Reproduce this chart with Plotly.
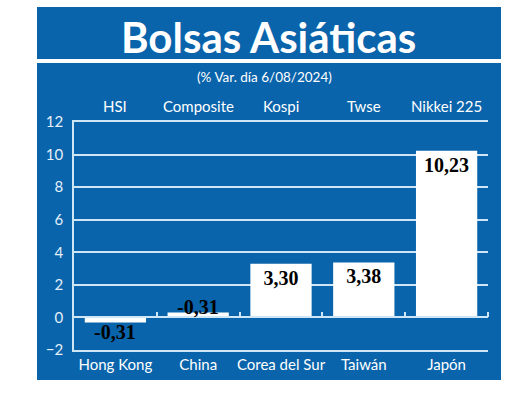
import plotly.graph_objects as go

# ---- data ----
countries = ["Hong Kong", "China", "Corea del Sur", "Taiwán", "Japón"]
indices = ["HSI", "Composite", "Kospi", "Twse", "Nikkei 225"]
values = [-0.31, 0.31, 3.30, 3.38, 10.23]
labels = ["-0,31", "-0,31", "3,30", "3,38", "10,23"]
y_ticks = [-2, 0, 2, 4, 6, 8, 10, 12]

title = "Bolsas Asiáticas"
subtitle = "(% Var. día 6/08/2024)"

# ---- layout constants ----
W, H = 520, 402
L, R, T, B = 74, 32, 122, 52
PW, PH = W - L - R, H - T - B
BLUE = "#0a64ab"
GRID = "#cfe6f7"
NARROW = "Liberation Sans Narrow, Arial Narrow, Lato, sans-serif"
SERIF = "Liberation Serif, Times New Roman, serif"


def px_x(p):
    return (p - L) / PW


def px_y(p):
    return (H - B - p) / PH


inside = [v >= 1 for v in values]

fig = go.Figure()
fig.add_trace(go.Bar(
    x=countries, y=values,
    text=[t if ins else "" for t, ins in zip(labels, inside)],
    texttemplate="<b>%{text}</b>",
    textposition="inside",
    insidetextanchor="end",
    textfont=dict(family=SERIF, size=20, color="black"),
    constraintext="none",
    cliponaxis=False,
    marker=dict(color="white", line=dict(width=0)),
    width=0.74,
    showlegend=False,
    hoverinfo="skip",
))
# invisible trace for the zero-line axis with boundary ticks
fig.add_trace(go.Scatter(x=[None], y=[None], xaxis="x2", showlegend=False,
                         hoverinfo="skip", mode="markers"))

shapes = [
    dict(type="rect", xref="paper", yref="paper", layer="below",
         x0=px_x(37), x1=px_x(501), y0=px_y(59), y1=px_y(7),
         fillcolor=BLUE, line=dict(width=0)),
    dict(type="rect", xref="paper", yref="paper", layer="below",
         x0=px_x(37), x1=px_x(501), y0=px_y(380), y1=px_y(63),
         fillcolor=BLUE, line=dict(width=0)),
]

annotations = [
    dict(text=title, x=px_x(268), y=px_y(37), xref="paper", yref="paper",
         showarrow=False, xanchor="center", yanchor="middle",
         font=dict(family="Lato, sans-serif", size=42, color="white", weight="bold")),
    dict(text=subtitle, x=px_x(264), y=px_y(77), xref="paper", yref="paper",
         showarrow=False, xanchor="center", yanchor="middle",
         font=dict(family=NARROW, size=13.5, color="white")),
]
for c, name in zip(countries, indices):
    annotations.append(dict(text=name, x=c, y=px_y(106), xref="x", yref="paper",
                            showarrow=False, xanchor="center", yanchor="middle",
                            font=dict(family=NARROW, size=15, color="white")))
# labels of the small bars, placed just outside the bar end
for c, v, t, ins in zip(countries, values, labels, inside):
    if not ins:
        annotations.append(dict(text="<b>%s</b>" % t, x=c, y=v, xref="x", yref="y",
                                showarrow=False, xanchor="center",
                                yanchor="top" if v < 0 else "bottom",
                                yshift=3 if v < 0 else -8,
                                font=dict(family=SERIF, size=20, color="black")))

n = len(countries)
fig.update_layout(
    width=W, height=H, autosize=False,
    margin=dict(l=L, r=R, t=T, b=B, pad=0),
    paper_bgcolor="white",
    plot_bgcolor="rgba(0,0,0,0)",
    shapes=shapes,
    annotations=annotations,
    bargap=0.26,
    xaxis=dict(
        type="category", range=[-0.5, n - 0.5],
        showgrid=False, showline=True, mirror=True, linecolor=GRID, linewidth=1.5,
        ticks="", tickfont=dict(family=NARROW, size=15, color="white"),
        zeroline=False,
    ),
    xaxis2=dict(
        overlaying="x", anchor="free", side="top",
        position=(0 - y_ticks[0]) / (y_ticks[-1] - y_ticks[0]),
        range=[-0.5, n - 0.5], showgrid=False, zeroline=False,
        showline=True, linecolor=GRID, linewidth=1.5,
        ticks="outside", ticklen=5, tickwidth=1.5, tickcolor=GRID,
        tickmode="array", tickvals=[i + 0.5 for i in range(n)],
        showticklabels=False,
    ),
    yaxis=dict(
        range=[y_ticks[0], y_ticks[-1]], tickmode="array", tickvals=y_ticks,
        showgrid=True, gridcolor=GRID, gridwidth=1.5,
        showline=True, linecolor=GRID, linewidth=1.5,
        zeroline=False, ticks="", ticklabelstandoff=6,
        tickfont=dict(family="Lato, sans-serif", size=15, color="#e3f0fa"),
    ),
)

fig.write_html("out.html")
